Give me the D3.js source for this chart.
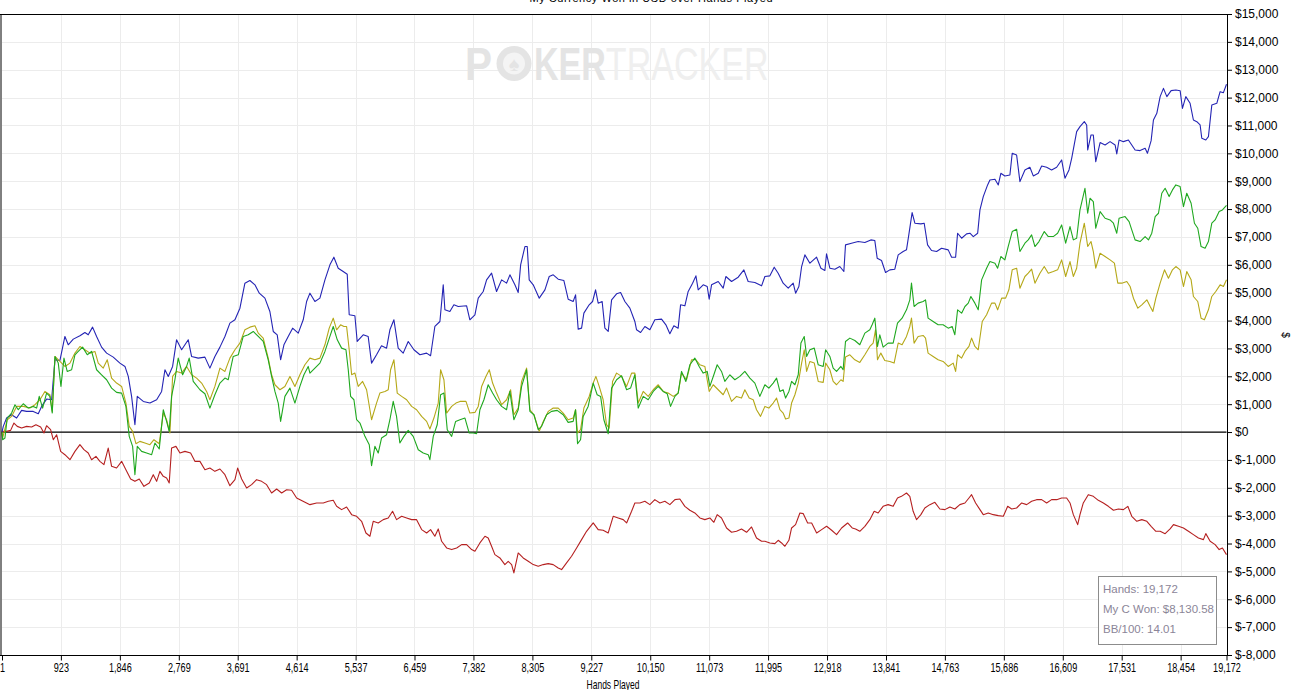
<!DOCTYPE html>
<html>
<head>
<meta charset="utf-8">
<script src="https://cdn.jsdelivr.net/npm/d3@7"></script>
<style>
  html, body { margin: 0; padding: 0; background: #fff; overflow: hidden; }
  svg { display: block; font-family: "Liberation Sans", Arial, sans-serif; }
</style>
</head>
<body>
<div id="app"></div>
<script>
// tick labels
const xTicks = [1, 923, 1846, 2769, 3691, 4614, 5537, 6459, 7382, 8305, 9227, 10150,
  11073, 11995, 12918, 13841, 14763, 15686, 16609, 17531, 18454, 19172];
const yTicks = [-8000, -7000, -6000, -5000, -4000, -3000, -2000, -1000, 0, 1000, 2000,
  3000, 4000, 5000, 6000, 7000, 8000, 9000, 10000, 11000, 12000, 13000, 14000, 15000];

const titleText = "My Currency Won in USD over Hands Played";
const xTitle = "Hands Played";
const legendLines = ["Hands: 19,172", "My C Won: $8,130.58", "BB/100: 14.01"];

// series values, [hand, dollars]
const blueLine = [[1,0],[21,203],[73,502],[151,621],[230,502],[308,777],[386,741],[490,741],[569,657],[621,920],[699,1183],[778,1159],[830,2593],[908,2569],[986,3430],[1038,3131],[1117,3334],[1221,3454],[1299,3573],[1351,3489],[1419,3764],[1482,3430],[1560,3047],[1639,2832],[1743,2689],[1847,2474],[1926,2354],[1978,1996],[2030,1279],[2082,263],[2119,1279],[2213,1099],[2317,1040],[2422,1159],[2500,1458],[2552,2235],[2604,1996],[2672,2354],[2734,3310],[2813,2952],[2917,3310],[2969,2713],[3073,2653],[3178,2689],[3256,2294],[3334,2713],[3413,3047],[3491,3430],[3569,3908],[3648,4027],[3726,4445],[3804,5342],[3882,5437],[3961,5282],[4029,4983],[4117,4804],[4195,4326],[4248,3609],[4310,3489],[4363,2593],[4415,3131],[4482,3430],[4551,3728],[4639,3549],[4717,4027],[4770,4684],
  [4822,4983],[4900,4684],[4978,4804],[5057,5461],[5135,5999],[5197,6274],[5265,5879],[5343,5760],[5406,5664],[5437,4206],[5526,4171],[5562,3250],[5656,3489],[5734,3430],[5787,2474],[5865,2772],[5943,3095],[6022,3011],[6074,3669],[6137,4027],[6204,3011],[6282,2832],[6361,3250],[6450,2952],[6544,2772],[6648,2832],[6711,2737],[6778,3788],[6857,3967],[6909,5282],[6935,4386],[7013,4326],[7076,4565],[7144,4505],[7275,4529],[7326,4027],[7405,4206],[7457,4804],[7535,5043],[7588,5461],[7666,5700],[7744,5043],[7823,5461],[7901,5342],[7953,5640],[8031,5282],[8083,5007],[8121,5999],[8188,6656],[8224,6656],[8255,5461],[8318,5282],[8412,4804],[8501,5103],[8568,5580],[8631,5640],[8709,5485],[8798,5437],[8865,4768],[8943,4684],[8981,4923],[9022,3693],[9075,3728],[9111,4266],[9194,4565],[9247,4684],[9294,5103],[9335,4625],[9397,4684],[9440,3728],[9492,3609],[9545,4744],[9623,4959],[9686,5007],[9753,4684],[9831,4445],[9909,3967],[9936,3669],[9999,3573],[10066,3788],[10144,3669],[10222,4027],[10327,4051],[10395,3848],[10457,3525],[10520,3812],[10587,3728],[10625,4565],[10692,4529],[10744,5043],[10813,5342],[10865,5604],[10901,5103],[10979,5282],[11042,5222],[11073,4768],[11110,5282],[11214,5401],[11292,5162],[11334,5580],[11423,5401],[11527,5557],[11616,5820],[11683,5401],[11788,5366],[11893,5246],
  [11945,5581],[12023,5605],[12091,5915],[12153,5700],[12231,5342],[12310,5162],[12388,5342],[12426,4983],[12477,5222],[12520,5939],[12571,6357],[12650,6059],[12754,6274],[12822,5879],[12884,5796],[12910,6393],[12962,5879],[13040,5844],[13118,5939],[13181,5760],[13207,6716],[13301,6776],[13405,6835],[13510,6800],[13604,6895],[13666,6871],[13703,6238],[13771,6154],[13834,5724],[13901,5820],[13979,5844],[14032,6357],[14110,6477],[14162,6537],[14198,7074],[14250,7875],[14293,7493],[14387,7469],[14439,7493],[14492,6716],[14554,6513],[14633,6477],[14711,6596],[14815,6537],[14868,6274],[14931,6274],[14962,7134],[15025,6955],[15103,7110],[15155,7134],[15208,7014],[15276,7134],[15312,7971],[15364,8449],[15432,8867],[15468,9046],[15547,9070],[15599,8867],[15639,9285],[15702,9190],[15781,9225],[15817,10002],[15886,9942],[15938,8986],[16016,9405],[16094,9500],[16147,9190],[16225,9285],[16278,9548],[16356,9500],[16434,9405],[16513,9500],[16591,9763],[16643,9106],[16706,9405],[16748,9823],[16826,10779],[16878,10958],[16946,11137],[16983,11018],[16999,10122],[17051,10659],[17087,10659],[17125,9703],[17193,10385],[17271,10301],[17349,10420],[17428,10301],[17454,9978],[17490,10480],[17558,10420],[17636,10480],[17741,10122],[17819,10098],[17898,10181],[17934,10002],[17992,10456],[18028,11197],[18081,11436],[18133,12034],[18185,12332],[18238,12034],[18305,12249],[18379,12273],[18446,12249],[18482,11615],[18535,12034],[18602,11795],[18654,11197],[18707,11137],[18759,11018],[18785,10540],[18848,10480],[18889,10600],[18942,11735],[19020,11795],[19072,12213],[19124,12177],[19172,12480]];

const greenLine = [[1,0],[11,-275],[47,-215],[83,502],[151,681],[204,980],[256,801],[334,1016],[412,860],[490,920],[543,860],[584,1279],[637,860],[699,1398],[751,1279],[788,681],[830,2713],[882,2474],[924,1637],[971,2653],[1022,2175],[1091,2235],[1143,2772],[1195,2892],[1263,3047],[1336,2772],[1404,2892],[1482,2235],[1560,2055],[1639,1876],[1717,1577],[1795,1422],[1874,1398],[1941,920],[1993,-155],[2046,-514],[2082,-1530],[2119,-514],[2187,-693],[2265,-753],[2344,-813],[2395,-394],[2463,-609],[2526,801],[2578,382],[2619,24],[2656,1279],[2708,1876],[2760,2653],[2829,2055],[2891,2354],[2932,2653],[2995,1816],[3100,1518],[3178,1374],[3256,860],[3334,1338],[3413,1757],[3491,1936],[3543,1876],[3621,2713],[3700,2772],[3778,3430],[3856,3489],[3935,3609],[4013,3430],[4091,3250],[4169,2593],[4222,1996],[4274,1458],[4326,1040],[4363,382],[4430,1279],[4509,1577],[4587,1040],[4665,1637],[4728,2055],[4795,2354],
  [4822,2115],[4900,2294],[4978,2474],[5057,2892],[5135,3430],[5187,3788],[5250,3310],[5318,3011],[5386,2952],[5422,2235],[5459,1279],[5511,1159],[5553,442],[5605,323],[5683,-155],[5751,-454],[5787,-1207],[5839,-514],[5891,-753],[5943,-215],[6022,-96],[6074,442],[6126,1099],[6178,562],[6230,-394],[6293,-155],[6361,60],[6439,-155],[6518,-633],[6596,-753],[6674,-813],[6700,-992],[6753,-155],[6815,263],[6868,1338],[6920,1398],[6972,84],[7041,-155],[7103,382],[7171,442],[7249,502],[7316,-36],[7379,-36],[7431,-60],[7483,801],[7546,1159],[7613,1697],[7682,1398],[7744,1159],[7823,920],[7901,801],[7953,1458],[8015,442],[8083,801],[8136,1637],[8214,2235],[8266,741],[8329,621],[8396,84],[8449,203],[8527,621],[8605,741],[8693,777],[8787,621],[8865,347],[8943,382],[8981,801],[9012,-418],[9059,-275],[9100,562],[9178,920],[9257,1757],[9319,1338],[9373,1279],[9424,442],[9492,-60],[9545,1577],[9623,1876],[9701,2020],[9780,1518],[9842,1577],[9909,2055],[9962,860],[10040,1279],[10118,1159],[10197,1458],[10275,1637],[10353,1458],[10416,1374],[10468,920],[10536,1279],[10587,1398],[10640,2175],[10708,1816],[10770,2414],[10848,2653],[10916,2354],[10979,2115],[11042,2175],[11083,1637],[11146,2055],[11198,2414],[11266,2175],[11318,1816],[11397,2055],[11475,1876],[11553,1996],[11631,2175],[11710,1936],[11788,1757],[11866,1279],
  [11945,1697],[12007,1577],[12075,1757],[12128,1936],[12180,1458],[12231,1518],[12269,1219],[12321,1458],[12363,1816],[12415,1697],[12467,2055],[12509,3191],[12561,3430],[12598,2713],[12650,2952],[12718,3011],[12780,2414],[12858,2354],[12896,2952],[12962,2713],[13014,2294],[13067,2175],[13135,2354],[13170,2235],[13207,3250],[13275,3370],[13353,3286],[13431,3131],[13510,3549],[13588,3669],[13624,3848],[13666,4087],[13708,3071],[13744,3489],[13796,3047],[13874,3191],[13953,3191],[14021,3908],[14093,4087],[14162,4386],[14214,4744],[14240,5342],[14281,4505],[14344,4625],[14422,4684],[14460,4744],[14500,4087],[14579,3967],[14657,3848],[14735,3848],[14815,3728],[14877,3788],[14919,3489],[14962,4386],[15025,4266],[15077,4505],[15129,4625],[15170,4864],[15233,4625],[15285,4386],[15338,5461],[15416,5879],[15468,6118],[15547,6059],[15589,5879],[15639,6298],[15702,6178],[15754,6656],[15817,7194],[15886,7277],[15938,6477],[16016,6776],[16068,6895],[16121,7074],[16173,6656],[16236,6835],[16319,7194],[16382,7014],[16460,7014],[16528,7134],[16591,7433],[16654,6776],[16722,7373],[16774,6895],[16826,6955],[16878,7971],[16956,8747],[16999,7851],[17035,8389],[17087,8269],[17125,7313],[17193,7911],[17271,7672],[17349,7612],[17402,7493],[17454,7134],[17490,7672],[17584,7732],[17647,7552],[17689,7254],[17741,6895],[17819,6835],[17898,7014],[17950,6895],[18002,7134],[18055,7732],[18107,7851],[18159,8568],[18211,8747],[18274,8449],[18326,8688],[18379,8867],[18446,8807],[18498,8090],[18550,8568],[18618,8210],[18670,7493],[18722,7313],[18774,6656],[18837,6596],[18889,6835],[18942,7493],[18994,7612],[19057,7911],[19108,7971],[19172,8131]];

const oliveLine = [[1,0],[11,-215],[83,442],[151,562],[230,920],[334,920],[438,860],[517,980],[595,1159],[673,1458],[751,1338],[788,741],[830,2713],[908,2534],[986,2354],[1065,2474],[1143,2832],[1221,3071],[1299,2952],[1378,2832],[1456,2892],[1508,2474],[1586,2294],[1649,2593],[1717,1936],[1795,1757],[1874,1637],[1941,1040],[1993,203],[2046,24],[2098,-418],[2160,-335],[2239,-394],[2317,-454],[2380,-275],[2463,-418],[2526,681],[2578,442],[2630,-36],[2672,1996],[2734,2175],[2813,2115],[2891,2354],[2969,2055],[3048,1936],[3126,1757],[3204,1458],[3256,1159],[3334,1637],[3413,2294],[3491,2175],[3569,2653],[3648,2952],[3726,3191],[3804,3669],[3882,3764],[3961,3812],[4013,3549],[4091,3370],[4169,2653],[4222,2055],[4274,1697],[4352,1518],[4430,1637],[4509,1996],[4587,1637],[4665,2055],[4743,2414],
  [4822,2653],[4900,2593],[4978,2653],[5057,3131],[5124,3728],[5187,4087],[5240,3669],[5302,3848],[5354,3788],[5396,3788],[5437,2952],[5475,2055],[5526,2115],[5578,1637],[5647,1816],[5709,1518],[5787,442],[5865,1040],[5917,1398],[5996,1458],[6048,1518],[6085,2235],[6137,2593],[6189,1398],[6258,1279],[6336,1159],[6414,920],[6492,801],[6571,562],[6649,382],[6700,108],[6763,502],[6831,1040],[6868,2235],[6920,1876],[6962,681],[7041,920],[7108,1040],[7171,1099],[7265,1099],[7326,681],[7405,705],[7457,920],[7510,1637],[7577,1996],[7630,2235],[7682,1757],[7744,1398],[7823,980],[7901,1159],[7964,1518],[8015,621],[8083,860],[8136,1816],[8214,2294],[8266,801],[8329,621],[8412,24],[8475,382],[8553,741],[8631,860],[8709,860],[8787,681],[8865,442],[8943,502],[8981,801],[9012,-36],[9059,84],[9111,860],[9194,1279],[9257,1757],[9299,1996],[9351,1637],[9413,1159],[9466,263],[9507,143],[9560,1816],[9623,2115],[9701,1996],[9780,1637],[9858,2115],[9909,2115],[9962,1040],[10040,1458],[10118,1279],[10197,1518],[10275,1697],[10353,1458],[10431,1398],[10510,1279],[10587,1398],[10640,2115],[10718,1876],[10796,2593],[10865,2593],[10927,2414],[11005,2354],[11073,1458],[11136,1697],[11214,1518],[11292,1338],[11345,1577],[11423,1099],[11501,1279],[11579,1219],[11631,1518],[11699,1219],[11762,1159],[11814,801],[11877,562],
  [11945,920],[12007,860],[12075,1040],[12128,1219],[12180,801],[12231,681],[12269,466],[12321,502],[12363,1040],[12415,1338],[12467,1757],[12520,2474],[12561,2952],[12598,2175],[12650,2533],[12718,2474],[12780,1816],[12858,1781],[12896,2474],[12962,2235],[13014,1816],[13067,1697],[13135,1876],[13170,1816],[13207,2689],[13275,2772],[13353,2593],[13431,2498],[13510,2772],[13588,3071],[13640,3191],[13677,3669],[13708,2593],[13760,2832],[13822,2569],[13901,2533],[13968,2474],[14032,3191],[14093,3131],[14162,3430],[14214,3788],[14240,4087],[14281,3191],[14344,3430],[14422,3466],[14460,3370],[14500,2832],[14579,2713],[14657,2593],[14735,2533],[14815,2354],[14893,2474],[14931,2175],[14962,2772],[15025,2653],[15077,2892],[15140,3071],[15181,3370],[15233,3071],[15285,2952],[15348,3967],[15416,4206],[15494,4625],[15547,4625],[15589,4386],[15652,4804],[15714,4804],[15765,5103],[15817,5820],[15886,5879],[15938,5162],[16016,5581],[16068,5700],[16121,5844],[16173,5342],[16251,5700],[16319,5939],[16382,5700],[16460,5760],[16528,5820],[16591,6178],[16654,5581],[16722,6118],[16774,5581],[16826,5879],[16878,6776],[16946,7493],[16999,6656],[17051,6835],[17087,6477],[17125,5879],[17193,6417],[17271,6298],[17349,6178],[17417,6059],[17470,5342],[17533,5342],[17611,5401],[17663,5222],[17715,4804],[17784,4445],[17846,4565],[17925,4744],[17977,4505],[18019,4326],[18066,4804],[18133,5342],[18201,5820],[18263,5521],[18326,5820],[18379,5939],[18446,5820],[18498,5222],[18550,5760],[18618,5461],[18654,4864],[18722,4684],[18774,4087],[18826,4027],[18889,4386],[18942,4864],[19004,5043],[19072,5282],[19124,5222],[19172,5461]];

const redLine = [[1,0],[21,24],[73,24],[136,60],[188,323],[240,203],[308,143],[386,203],[465,179],[532,263],[606,179],[658,-36],[699,227],[762,84],[804,-275],[856,-96],[919,-693],[986,-813],[1065,-992],[1143,-693],[1221,-454],[1284,-633],[1351,-753],[1404,-992],[1472,-872],[1534,-1052],[1597,-1171],[1664,-574],[1717,-1231],[1795,-1291],[1874,-1052],[1941,-1350],[2015,-1685],[2082,-1769],[2150,-1685],[2223,-1948],[2307,-1828],[2369,-1530],[2422,-1769],[2473,-1410],[2526,-1589],[2578,-1649],[2619,-1828],[2656,-574],[2724,-514],[2787,-753],[2865,-693],[2954,-753],[3021,-1052],[3100,-1052],[3178,-1350],[3256,-1291],[3334,-1410],[3413,-1326],[3491,-1530],[3569,-1924],[3648,-1709],[3690,-1291],[3753,-1685],[3831,-2008],[3909,-1888],[3987,-1709],[4066,-1769],[4144,-1888],[4222,-2187],[4301,-2044],[4379,-2187],[4457,-2068],[4535,-2091],[4614,-2366],
  [4822,-2605],[4927,-2545],[5031,-2545],[5110,-2486],[5187,-2450],[5240,-2665],[5318,-2784],[5396,-2689],[5475,-2964],[5553,-3023],[5631,-3203],[5699,-3621],[5761,-3740],[5813,-3203],[5891,-3262],[5970,-3143],[6048,-3083],[6116,-2844],[6178,-3143],[6258,-3023],[6336,-3083],[6414,-3143],[6492,-3143],[6571,-3501],[6649,-3621],[6711,-3501],[6778,-3740],[6831,-3477],[6884,-3920],[6962,-4159],[7041,-4218],[7119,-4159],[7197,-4039],[7275,-4039],[7354,-4218],[7405,-4278],[7483,-3979],[7562,-3740],[7613,-3800],[7666,-4099],[7718,-4398],[7796,-4517],[7874,-4756],[7926,-4637],[7980,-4756],[8015,-5055],[8083,-4338],[8161,-4517],[8240,-4637],[8318,-4756],[8396,-4816],[8475,-4756],[8553,-4720],[8631,-4756],[8709,-4876],[8762,-4935],[8840,-4696],[8918,-4457],[8997,-4159],[9075,-3860],[9153,-3561],[9257,-3262],[9335,-3501],[9413,-3525],[9492,-3621],[9570,-3023],[9648,-3083],[9727,-3143],[9780,-3262],[9858,-2844],[9909,-2545],[9988,-2545],[10066,-2486],[10144,-2605],[10222,-2426],[10301,-2545],[10379,-2486],[10457,-2605],[10536,-2426],[10614,-2402],[10692,-2665],[10770,-2808],[10848,-2904],[10927,-3083],[11005,-3143],[11083,-3083],[11146,-3238],[11198,-2964],[11266,-3083],[11345,-3442],[11423,-3597],[11501,-3561],[11579,-3477],[11658,-3597],[11736,-3406],[11814,-3800],[11893,-3920],
  [11945,-3920],[12023,-3980],[12101,-4003],[12153,-3884],[12206,-3980],[12258,-4099],[12321,-3884],[12363,-3442],[12425,-3322],[12493,-2904],[12546,-2928],[12614,-3262],[12677,-3262],[12755,-3621],[12833,-3501],[12911,-3382],[12990,-3525],[13067,-3680],[13146,-3442],[13240,-3262],[13312,-3442],[13365,-3477],[13431,-3561],[13510,-3382],[13588,-3143],[13656,-2844],[13718,-2904],[13796,-2665],[13874,-2605],[13953,-2665],[14021,-2366],[14083,-2307],[14162,-2187],[14214,-2307],[14266,-2844],[14319,-3143],[14387,-2964],[14449,-2725],[14527,-2605],[14606,-2521],[14684,-2760],[14763,-2784],[14841,-2689],[14919,-2760],[14997,-2605],[15077,-2545],[15140,-2366],[15181,-2247],[15244,-2545],[15312,-2784],[15364,-2964],[15442,-2904],[15521,-2964],[15599,-3000],[15678,-3023],[15746,-2665],[15809,-2760],[15886,-2725],[15965,-2545],[16043,-2605],[16121,-2486],[16199,-2426],[16278,-2426],[16356,-2545],[16434,-2426],[16513,-2426],[16591,-2366],[16669,-2366],[16722,-2545],[16774,-2964],[16842,-3322],[16878,-2964],[16930,-2545],[17008,-2247],[17087,-2307],[17165,-2450],[17244,-2545],[17322,-2665],[17402,-2808],[17480,-2760],[17558,-2784],[17627,-2665],[17689,-3023],[17768,-3203],[17846,-3143],[17925,-3203],[17992,-3382],[18066,-3561],[18133,-3561],[18211,-3645],[18289,-3477],[18342,-3322],[18420,-3382],[18498,-3442],[18576,-3561],[18654,-3680],[18733,-3800],[18811,-3860],[18848,-3645],[18916,-3920],[18994,-4039],[19057,-4218],[19108,-4159],[19172,-4398]];

// drawn bottom to top
const series = [
  { data: redLine, color: "#b52020" },
  { data: blueLine, color: "#2424b4" },
  { data: oliveLine, color: "#b5a818" },
  { data: greenLine, color: "#1fa81f" }
];

const w = 1293;
const h = 690;
const plot = { left: 2, right: 1226.5, top: 14, bottom: 655 };

const svg = d3.select("#app").append("svg").attr("width", w).attr("height", h);

const x = d3.scaleLinear().domain([1, 19172]).range([plot.left, plot.right]);
const y = d3.scaleLinear().domain([-8000, 15000]).range([plot.bottom, plot.top]);

const money = (v) => (v < 0 ? "$-" : "$") + d3.format(",")(Math.abs(v));

//title, only the lower edge shows
svg.append("text")
  .attr("x", 651).attr("y", 2)
  .attr("text-anchor", "middle")
  .attr("textLength", 243)
  .style("font-size", "11px")
  .text(titleText);

//grid
const grid = svg.append("g").attr("stroke", "#ececec").attr("stroke-width", 1);
grid.selectAll(".gx").data(xTicks.slice(1)).enter().append("line")
  .attr("x1", (d) => Math.round(x(d)) + 0.5).attr("x2", (d) => Math.round(x(d)) + 0.5)
  .attr("y1", plot.top).attr("y2", plot.bottom);
grid.selectAll(".gy").data(yTicks).enter().append("line")
  .attr("x1", plot.left).attr("x2", plot.right)
  .attr("y1", (d) => Math.round(y(d)) + 0.5).attr("y2", (d) => Math.round(y(d)) + 0.5);

//watermark
const wm = svg.append("g");
wm.append("text").attr("x", 465).attr("y", 80).attr("textLength", 27)
  .attr("lengthAdjust", "spacingAndGlyphs")
  .style("font-size", "46px").style("font-weight", "bold").attr("fill", "#e4e4e4").text("P");
wm.append("circle").attr("cx", 514).attr("cy", 63.5).attr("r", 17.5).attr("fill", "#e4e4e4");
wm.append("circle").attr("cx", 514).attr("cy", 63.5).attr("r", 11).attr("fill", "#f4f4f4");
wm.append("text").attr("x", 514).attr("y", 71).attr("text-anchor", "middle")
  .style("font-size", "20px").attr("fill", "#e4e4e4").text("\u2660");
const wmText = wm.append("text")
  .attr("transform", "translate(534,80) scale(0.74,1)")
  .style("font-size", "46px");
wmText.append("tspan").style("font-weight", "bold").attr("fill", "#e4e4e4").text("KER");
wmText.append("tspan").attr("fill", "#efefef").text("TRACKER");

//zero line
svg.append("line")
  .attr("x1", plot.left).attr("x2", plot.right)
  .attr("y1", y(0)).attr("y2", y(0))
  .attr("stroke", "#000").attr("stroke-width", 1.2);

//lines
const line = d3.line().x((d) => x(d[0])).y((d) => y(d[1]));
svg.selectAll(".series").data(series).enter().append("path")
  .attr("class", "series")
  .attr("d", (d) => line(d.data))
  .attr("fill", "none")
  .attr("stroke", (d) => d.color)
  .attr("stroke-width", 1.1)
  .attr("stroke-linejoin", "round");

//frame
svg.append("line").attr("x1", 0).attr("x2", plot.right + 0.5)
  .attr("y1", plot.top + 0.5).attr("y2", plot.top + 0.5).attr("stroke", "#000");
svg.append("line").attr("x1", 1).attr("x2", 1)
  .attr("y1", plot.top).attr("y2", plot.bottom).attr("stroke", "#000");

//x axis
const xAxis = d3.axisBottom(x).tickValues(xTicks).tickSize(5).tickSizeOuter(0)
  .tickFormat(d3.format(","));
const gx = svg.append("g")
  .attr("transform", "translate(0," + (plot.bottom + 0.5) + ")")
  .call(xAxis);
gx.select(".domain").attr("d", "M0,0H" + (plot.right + 0.5)).attr("stroke", "#000");
gx.selectAll("text")
  .attr("y", 7)
  .attr("transform", "scale(0.7,1)")
  .style("font-size", "13px").style("fill", "#000");

svg.append("text")
  .attr("transform", "translate(613,689) scale(0.68,1)")
  .attr("text-anchor", "middle")
  .style("font-size", "12.5px")
  .text(xTitle);

//y axis
const yAxis = d3.axisRight(y).tickValues(yTicks).tickSize(5).tickSizeOuter(0)
  .tickFormat(money);
const gy = svg.append("g")
  .attr("transform", "translate(" + (plot.right + 0.5) + ",0)")
  .call(yAxis);
gy.selectAll("text").style("font-size", "12px").style("fill", "#000");

svg.append("text")
  .attr("transform", "translate(1282,335) rotate(90)")
  .attr("text-anchor", "middle")
  .style("font-size", "10px")
  .text("$");

//legend box
const lg = svg.append("g").attr("transform", "translate(1098.5,576.5)");
lg.append("rect").attr("width", 118).attr("height", 68)
  .attr("fill", "#fff").attr("stroke", "#8c8c8c");
lg.selectAll("text").data(legendLines).enter().append("text")
  .attr("x", 4.5).attr("y", (d, i) => 16.5 + i * 20)
  .style("font-size", "11.5px")
  .attr("fill", "#8b8598")
  .text((d) => d);
</script>
</body>
</html>
